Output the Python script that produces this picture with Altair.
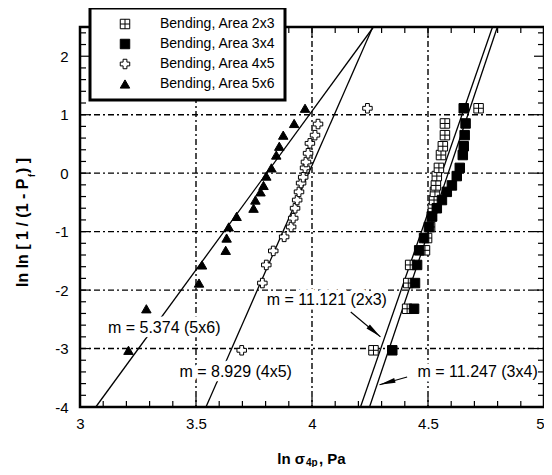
import altair as alt
import pandas as pd

S23, S34, S45, S56 = ("Bending, Area 2x3", "Bending, Area 3x4",
                      "Bending, Area 4x5", "Bending, Area 5x6")
series_names = [S23, S34, S45, S56]

# data points (ln sigma, ln ln [1/(1-Pf)])
x_2x3 = [4.265, 4.410, 4.415, 4.423, 4.487, 4.496, 4.509, 4.517, 4.521, 4.526,
         4.530, 4.534, 4.538, 4.547, 4.556, 4.564, 4.573, 4.573, 4.718]
y_2x3 = [-3.03, -2.32, -1.88, -1.57, -1.32, -1.11, -0.92, -0.74, -0.60, -0.46,
         -0.32, -0.21, -0.05, 0.09, 0.31, 0.46, 0.65, 0.85, 1.11]
x_3x4 = [4.346, 4.440, 4.444, 4.453, 4.462, 4.483, 4.504, 4.517, 4.538, 4.560,
         4.581, 4.603, 4.624, 4.637, 4.650, 4.654, 4.658, 4.662, 4.654]
y_3x4 = [-3.03, -2.32, -1.88, -1.57, -1.32, -1.11, -0.92, -0.74, -0.60, -0.46,
         -0.32, -0.21, -0.05, 0.09, 0.31, 0.46, 0.65, 0.85, 1.11]
x_4x5 = [3.697, 3.786, 3.803, 3.833, 3.880, 3.910, 3.919, 3.927, 3.936, 3.944,
         3.953, 3.962, 3.970, 3.974, 3.983, 3.991, 4.013, 4.026, 4.239]
y_4x5 = [-3.03, -1.88, -1.57, -1.33, -1.09, -0.92, -0.77, -0.60, -0.46, -0.32,
         -0.17, -0.07, 0.09, 0.19, 0.34, 0.51, 0.65, 0.84, 1.11]
x_5x6 = [3.209, 3.286, 3.513, 3.526, 3.628, 3.632, 3.641, 3.675, 3.748, 3.756,
         3.778, 3.791, 3.803, 3.825, 3.846, 3.859, 3.876, 3.923, 3.970]
y_5x6 = [-3.03, -2.32, -1.88, -1.57, -1.32, -1.11, -0.92, -0.74, -0.60, -0.46,
         -0.32, -0.21, -0.05, 0.09, 0.31, 0.46, 0.65, 0.85, 1.11]

# fitted Weibull lines: x at y = -4 and at y = 2.5
fit_x_low = [4.209, 4.248, 3.543, 3.068]
fit_x_high = [4.778, 4.799, 4.262, 4.265]
fit_y_low, fit_y_high = -4.0, 2.5

# annotations
ann_text = ["m = 5.374 (5x6)", "m = 8.929 (4x5)", "m = 11.121 (2x3)", "m = 11.247 (3x4)"]
ann_x = [3.363, 3.671, 4.064, 4.714]
ann_y = [-2.65, -3.40, -2.17, -3.40]

# arrows (start -> tip)
arr_x = [4.167, 4.410]
arr_y = [-2.376, -3.487]
arr_x2 = [4.295, 4.291]
arr_y2 = [-2.80, -3.62]
arr_angle = [40, 164]

# axes
x_major = [3, 3.5, 4, 4.5, 5]
x_minor = [round(3 + 0.1 * i, 2) for i in range(21) if i % 5]
y_major = [-4, -3, -2, -1, 0, 1, 2]
y_minor = [round(-4 + 0.2 * i, 2) for i in range(33) if i % 5]
x_grid = [3.5, 4, 4.5]
y_grid = [-3, -2, -1, 0, 1]

W, H = 464, 380
FONT = "Liberation Sans"

rows = []
for name, xs_, ys_ in [(S23, x_2x3, y_2x3), (S34, x_3x4, y_3x4),
                       (S45, x_4x5, y_4x5), (S56, x_5x6, y_5x6)]:
    for a, b in zip(xs_, ys_):
        rows.append({"x": a, "y": b, "series": name})
df_pts = pd.DataFrame(rows)

fit_rows = []
for name, lo, hi in zip(series_names, fit_x_low, fit_x_high):
    fit_rows.append({"x": lo, "y": fit_y_low, "series": name})
    fit_rows.append({"x": hi, "y": fit_y_high, "series": name})
df_fit = pd.DataFrame(fit_rows)

df_ann = pd.DataFrame({"x": ann_x, "y": ann_y, "t": ann_text})
df_arr = pd.DataFrame({"x": arr_x, "y": arr_y, "x2": arr_x2, "y2": arr_y2, "a": arr_angle})

xs = alt.Scale(domain=[3, 5], nice=False, zero=False)
ys = alt.Scale(domain=[-4, 2.5], nice=False, zero=False)
xaxis = alt.Axis(values=x_major, labelExpr="'' + datum.value", ticks=False, domain=False,
                 grid=False, title=None, labelPadding=9, labelFlush=False,
                 labelAlign={"condition": {"test": "datum.value == 5", "value": "right"},
                             "value": "center"},
                 labelFontSize=15, labelFont=FONT, labelColor="black")
yaxis = alt.Axis(values=y_major, labelExpr="'' + datum.value", ticks=False, domain=False,
                 grid=False, title=None, labelPadding=12,
                 labelFontSize=15, labelFont=FONT, labelColor="black")


def X(f="x"):
    return alt.X(f"{f}:Q", scale=xs, axis=xaxis)


def Y(f="y"):
    return alt.Y(f"{f}:Q", scale=ys, axis=yaxis)


grid_dash = [6, 3, 2, 3]
gx = alt.Chart(pd.DataFrame({"x": x_grid})).mark_rule(
    color="black", strokeWidth=1.4, strokeDash=grid_dash).encode(
    x=X(), y=alt.value(0), y2=alt.value(H))
gy = alt.Chart(pd.DataFrame({"y": y_grid})).mark_rule(
    color="black", strokeWidth=1.4, strokeDash=grid_dash).encode(
    y=Y(), x=alt.value(0), x2=alt.value(W))

fits = alt.Chart(df_fit).mark_line(color="black", strokeWidth=1.3).encode(
    x=X(), y=Y(), detail="series:N")

halo = alt.Chart(df_ann).mark_text(font=FONT, fontSize=16, fill="white", stroke="white",
                                   strokeWidth=9, strokeJoin="round").encode(
    x=X(), y=Y(), text="t:N")
ann = alt.Chart(df_ann).mark_text(font=FONT, fontSize=16, color="black").encode(
    x=X(), y=Y(), text="t:N")

arrows = alt.Chart(df_arr).mark_rule(color="black", strokeWidth=1.2).encode(
    x=X(), y=Y(), x2="x2:Q", y2="y2:Q")
heads = alt.Chart(df_arr).mark_point(shape="M0,0L-4,-0.65L-4,0.65Z", filled=True,
                                     color="black", size=64, opacity=1).encode(
    x=X("x2"), y=Y("y2"), angle=alt.Angle("a:Q", scale=None))

grid_square = "M-1,-1H1V1H-1ZM-1,0H1M0,-1V1"
shapes = [grid_square, "square", "cross", "triangle-up"]
fills = ["white", "black", "white", "black"]
strokes = ["black", "black", "black", "black"]
leg = alt.Legend(orient="none", legendX=10, legendY=-19, title=None, padding=9,
                 strokeColor="black", fillColor="white",
                 labelFont=FONT, labelFontSize=14, labelColor="black", labelLimit=300,
                 symbolSize=90, symbolStrokeColor="black", symbolStrokeWidth=1,
                 symbolOffset=19, labelOffset=28, rowPadding=6)

pts = alt.Chart(df_pts).mark_point(filled=True, strokeWidth=1,
                                   size=90, opacity=1).encode(
    x=X(), y=Y(),
    shape=alt.Shape("series:N", scale=alt.Scale(domain=series_names, range=shapes), legend=leg),
    fill=alt.Fill("series:N", scale=alt.Scale(domain=series_names, range=fills), legend=leg),
    stroke=alt.Stroke("series:N", scale=alt.Scale(domain=series_names, range=strokes), legend=leg))

# inside ticks on all four sides
MAJ, MIN = 10, 6
tick_layers = []
for vals, L in [(x_major, MAJ), (x_minor, MIN)]:
    d = pd.DataFrame({"x": vals})
    tick_layers.append(alt.Chart(d).mark_rule(color="black", strokeWidth=1.2).encode(
        x=X(), y=alt.value(H), y2=alt.value(H - L)))
    tick_layers.append(alt.Chart(d).mark_rule(color="black", strokeWidth=1.2).encode(
        x=X(), y=alt.value(0), y2=alt.value(L)))
for vals, L in [(y_major, MAJ), (y_minor, MIN)]:
    d = pd.DataFrame({"y": vals})
    tick_layers.append(alt.Chart(d).mark_rule(color="black", strokeWidth=1.2).encode(
        y=Y(), x=alt.value(0), x2=alt.value(L)))
    tick_layers.append(alt.Chart(d).mark_rule(color="black", strokeWidth=1.2).encode(
        y=Y(), x=alt.value(W), x2=alt.value(W - L)))

# axis titles (with subscripts)
x_title_main = ["ln σ", ", Pa"]
x_title_sub = "4p"
y_title_parts = ["ln ln [ 1 / (1 - P", "f", " ) ]"]

xt1 = alt.Chart(pd.DataFrame({"t": [x_title_main[0]]})).mark_text(
    font=FONT, fontSize=15, fontWeight="bold", align="right", baseline="middle",
    color="black").encode(x=alt.value(225), y=alt.value(432), text="t:N")
xt2 = alt.Chart(pd.DataFrame({"t": [x_title_sub]})).mark_text(
    font=FONT, fontSize=10, fontWeight="bold", align="left", baseline="middle",
    color="black").encode(x=alt.value(226), y=alt.value(436), text="t:N")
xt3 = alt.Chart(pd.DataFrame({"t": [x_title_main[1]]})).mark_text(
    font=FONT, fontSize=15, fontWeight="bold", align="left", baseline="middle",
    color="black").encode(x=alt.value(239), y=alt.value(432), text="t:N")

yt1 = alt.Chart(pd.DataFrame({"t": [y_title_parts[0]]})).mark_text(
    font=FONT, fontSize=16, fontWeight="bold", align="left", baseline="middle", angle=270,
    color="black").encode(x=alt.value(-57), y=alt.value(260), text="t:N")
yt2 = alt.Chart(pd.DataFrame({"t": [y_title_parts[1]]})).mark_text(
    font=FONT, fontSize=9, fontWeight="bold", align="left", baseline="middle", angle=270,
    dy=9, color="black").encode(x=alt.value(-57), y=alt.value(150), text="t:N")
yt3 = alt.Chart(pd.DataFrame({"t": [y_title_parts[2]]})).mark_text(
    font=FONT, fontSize=16, fontWeight="bold", align="left", baseline="middle", angle=270,
    color="black").encode(x=alt.value(-57), y=alt.value(146), text="t:N")

chart = alt.layer(
    gx, gy, fits, halo, ann, arrows, heads, pts, *tick_layers,
    xt1, xt2, xt3, yt1, yt2, yt3
).properties(
    width=W, height=H,
    autosize=alt.AutoSizeParams(type="none"),
    padding={"left": 72, "top": 19, "right": 0, "bottom": 60},
).configure_view(stroke="black", strokeWidth=2.5).configure_legend(strokeWidth=3)

chart.save("out.html", embed_options={"renderer": "svg", "actions": False})
